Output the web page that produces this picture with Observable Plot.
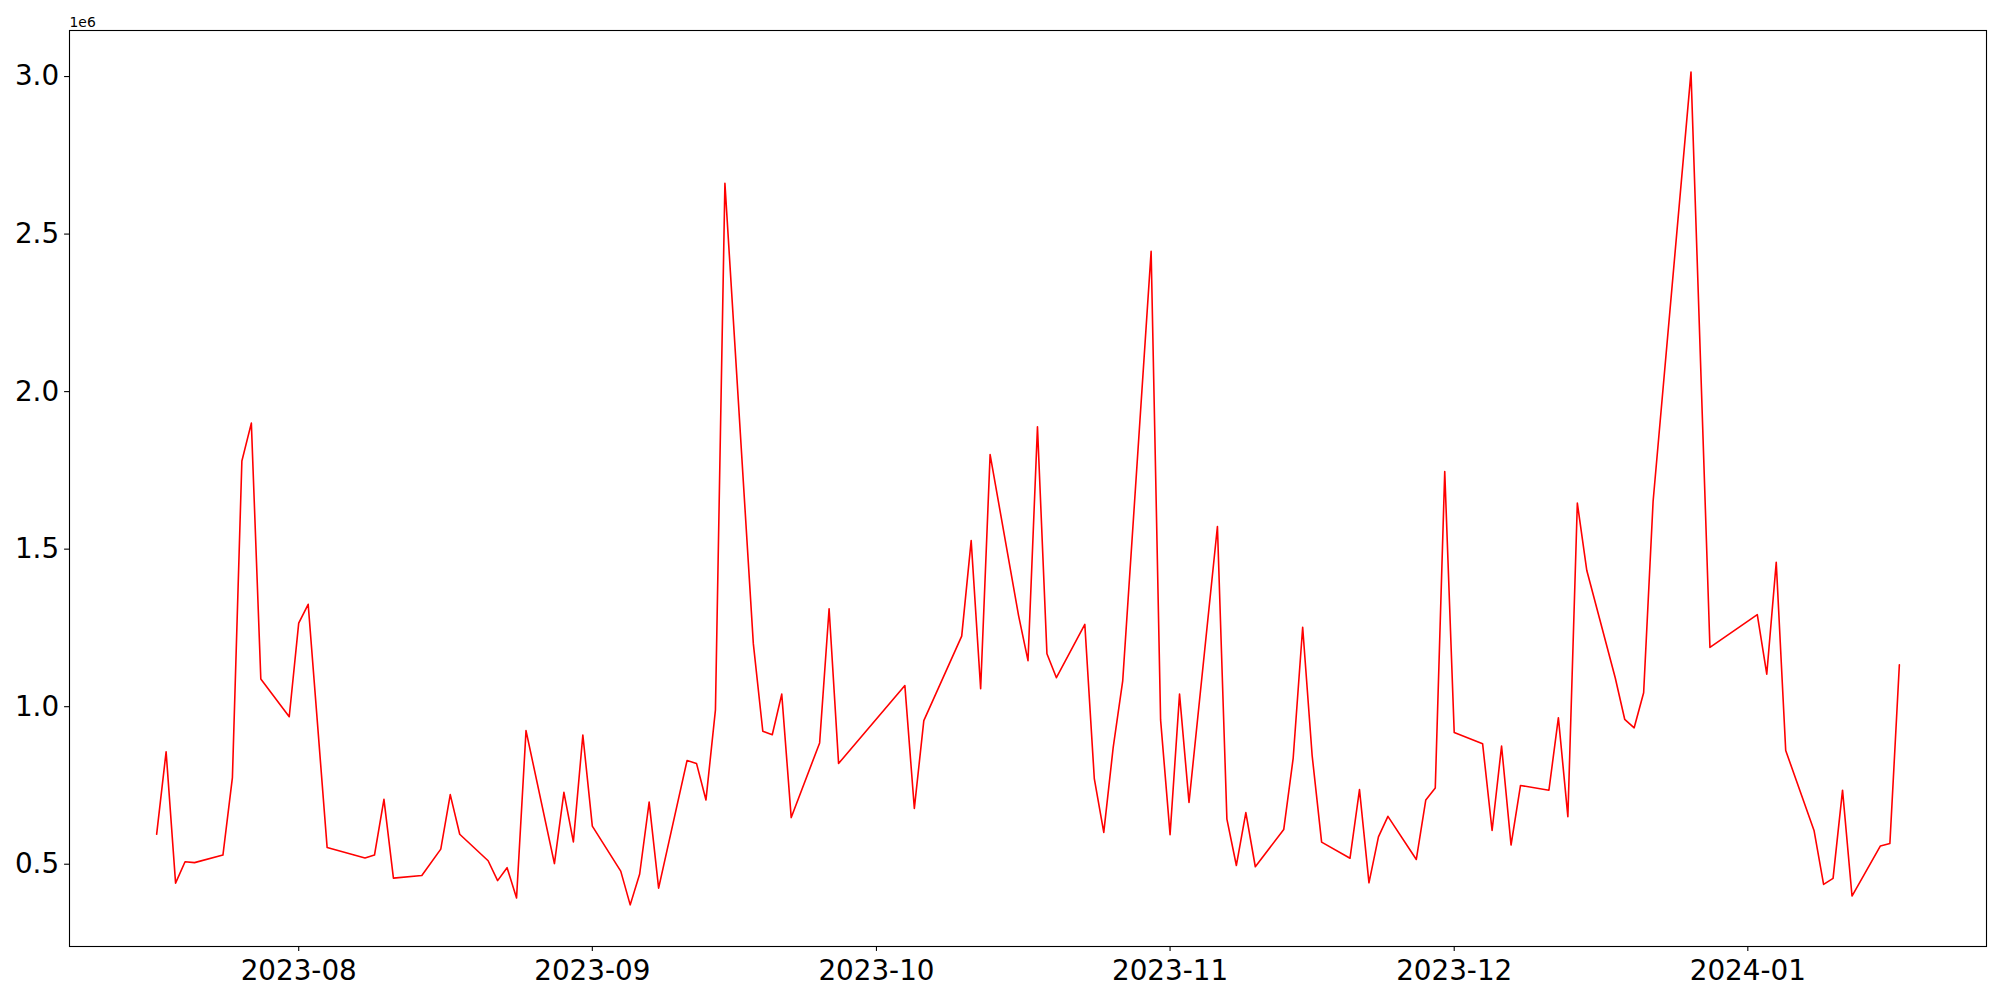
<!DOCTYPE html>
<html>
<head>
<meta charset="utf-8">
<script src="https://cdn.jsdelivr.net/npm/d3@7"></script>
<script src="https://cdn.jsdelivr.net/npm/@observablehq/plot@0.6"></script>
<style>
html, body { margin: 0; padding: 0; background: #fff; overflow: hidden; }
</style>
</head>
<body>
<div id="chart"></div>
<script>
const dates = [
  "2023-07-17","2023-07-18","2023-07-19","2023-07-20","2023-07-21",
  "2023-07-24","2023-07-25","2023-07-26","2023-07-27","2023-07-28",
  "2023-07-31","2023-08-01","2023-08-02","2023-08-03","2023-08-04",
  "2023-08-08","2023-08-09","2023-08-10","2023-08-11",
  "2023-08-14","2023-08-16","2023-08-17","2023-08-18",
  "2023-08-21","2023-08-22","2023-08-23","2023-08-24","2023-08-25",
  "2023-08-28","2023-08-29","2023-08-30","2023-08-31","2023-09-01",
  "2023-09-04","2023-09-05","2023-09-06","2023-09-07","2023-09-08",
  "2023-09-11","2023-09-12","2023-09-13","2023-09-14","2023-09-15",
  "2023-09-18","2023-09-19","2023-09-20","2023-09-21","2023-09-22",
  "2023-09-25","2023-09-26","2023-09-27",
  "2023-10-04","2023-10-05","2023-10-06",
  "2023-10-10","2023-10-11","2023-10-12","2023-10-13",
  "2023-10-16","2023-10-17","2023-10-18","2023-10-19","2023-10-20",
  "2023-10-23","2023-10-24","2023-10-25","2023-10-26","2023-10-27",
  "2023-10-30","2023-10-31","2023-11-01","2023-11-02","2023-11-03",
  "2023-11-06","2023-11-07","2023-11-08","2023-11-09","2023-11-10",
  "2023-11-13","2023-11-14","2023-11-15","2023-11-16","2023-11-17",
  "2023-11-20","2023-11-21","2023-11-22","2023-11-23","2023-11-24",
  "2023-11-27","2023-11-28","2023-11-29","2023-11-30","2023-12-01",
  "2023-12-04","2023-12-05","2023-12-06","2023-12-07","2023-12-08",
  "2023-12-11","2023-12-12","2023-12-13","2023-12-14","2023-12-15",
  "2023-12-18","2023-12-19","2023-12-20","2023-12-21","2023-12-22",
  "2023-12-26","2023-12-28",
  "2024-01-02","2024-01-03","2024-01-04","2024-01-05",
  "2024-01-08","2024-01-09","2024-01-10","2024-01-11","2024-01-12",
  "2024-01-15","2024-01-16","2024-01-17"
];

const values = [
  595000, 857000, 440000, 508000, 505000,
  529000, 775000, 1780000, 1900000, 1088000,
  968000, 1265000, 1325000, 940000, 553000,
  520000, 529000, 706000, 456000,
  464000, 548000, 721000, 595000,
  511000, 448000, 489000, 393000, 924000,
  502000, 728000, 571000, 910000, 621000,
  478000, 371000, 469000, 697000, 424000,
  829000, 820000, 704000, 990000, 2661000,
  1200000, 922000, 911000, 1040000, 648000,
  885000, 1311000, 820000,
  1067000, 677000, 956000,
  1224000, 1527000, 1057000, 1800000,
  1290000, 1146000, 1888000, 1168000, 1092000,
  1261000, 772000, 601000, 872000, 1082000,
  2445000, 958000, 594000, 1040000, 696000,
  1572000, 643000, 496000, 664000, 492000,
  610000, 837000, 1252000, 845000, 570000,
  519000, 737000, 441000, 587000, 652000,
  515000, 704000, 742000, 1746000, 918000,
  882000, 607000, 875000, 561000, 750000,
  735000, 965000, 651000, 1646000, 1432000,
  1092000, 960000, 933000, 1044000, 1652000,
  3014000, 1188000,
  1292000, 1103000, 1458000, 861000,
  606000, 436000, 455000, 735000, 399000,
  558000, 566000, 1133000
];

const xTicks = ["2023-08-01","2023-09-01","2023-10-01","2023-11-01","2023-12-01","2024-01-01"];
const xTickLabels = ["2023-08","2023-09","2023-10","2023-11","2023-12","2024-01"];
const yTicks = [500000, 1000000, 1500000, 2000000, 2500000, 3000000];
const yTickLabels = ["0.5","1.0","1.5","2.0","2.5","3.0"];
const offsetLabel = "1e6";
const xDomain = ["2023-07-07T19:12:00Z", "2024-01-26T04:48:00Z"];
const yDomain = [238850, 3146150];

const table = dates.map((d, i) => ({date: new Date(d + "T00:00:00Z"), value: values[i]}));
const xTickDates = xTicks.map(d => new Date(d + "T00:00:00Z"));
const xLabelMap = new Map(xTickDates.map((d, i) => [+d, xTickLabels[i]]));
const yLabelMap = new Map(yTicks.map((v, i) => [v, yTickLabels[i]]));

const chart = Plot.plot({
  width: 2000,
  height: 1000,
  marginLeft: 69,
  marginRight: 14,
  marginTop: 30,
  marginBottom: 54,
  style: {fontFamily: "DejaVu Sans", fontSize: "27.8px", background: "white", color: "black"},
  x: {type: "utc", domain: xDomain.map(d => new Date(d))},
  y: {domain: yDomain},
  marks: [
    Plot.lineY(table, {x: "date", y: "value", stroke: "#ff0000", strokeWidth: 1.6}),
    Plot.frame({stroke: "black", strokeWidth: 1.1}),
    Plot.axisX({
      ticks: xTickDates,
      tickFormat: d => xLabelMap.get(+d),
      tickSize: 4.9,
      tickPadding: 9,
      strokeWidth: 1.1,
      fontSize: 27.8,
      label: null
    }),
    Plot.axisY({
      ticks: yTicks,
      tickFormat: v => yLabelMap.get(v),
      tickSize: 4.9,
      tickPadding: 5.5,
      strokeWidth: 1.1,
      fontSize: 27.8,
      label: null
    }),
    Plot.text([offsetLabel], {
      text: d => d,
      frameAnchor: "top-left",
      textAnchor: "start",
      lineAnchor: "bottom",
      dy: -4,
      fontSize: 13.9
    })
  ]
});

document.getElementById("chart").appendChild(chart);
</script>
</body>
</html>
